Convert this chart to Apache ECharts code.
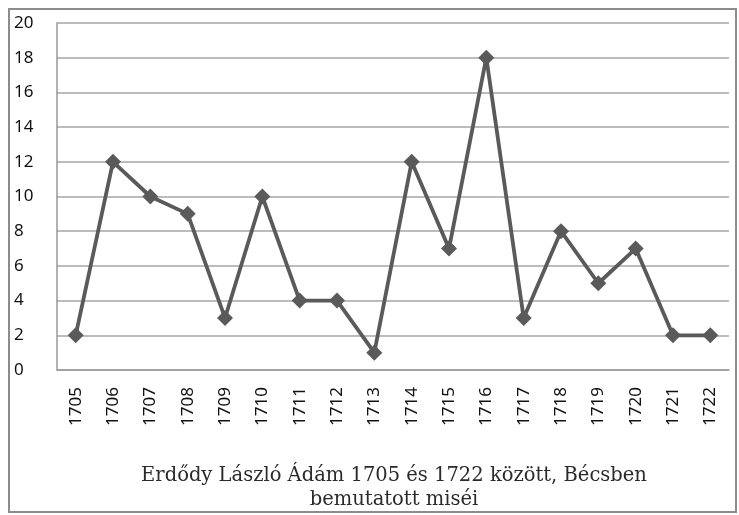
<!DOCTYPE html>
<html><head><meta charset="utf-8">
<script src="https://cdn.jsdelivr.net/npm/echarts@6/dist/echarts.min.js"></script>
<style>html,body{margin:0;padding:0;background:#fff}#c{width:739px;height:515px}</style>
</head><body><div id="c"></div>
<script>
const years = ['1705','1706','1707','1708','1709','1710','1711','1712','1713','1714','1715','1716','1717','1718','1719','1720','1721','1722'];
const masses = [2,12,10,9,3,10,4,4,1,12,7,18,3,8,5,7,2,2];
const yTicks = {min:0, max:20, interval:2};
const titleText = 'Erdődy László Ádám 1705 és 1722 között, Bécsben\nbemutatott miséi';

const chart = echarts.init(document.getElementById('c'), null, {renderer:'canvas'});
chart.setOption({
  animation:false,
  backgroundColor:'#fff',
  graphic:[{type:'rect', shape:{x:9,y:9,width:727,height:503}, style:{fill:'none', stroke:'#8c8c8c', lineWidth:2}, z:-1}],
  title:{text:titleText, left:389, textAlign:'center', top:459,
    textStyle:{fontFamily:'DejaVu Serif', fontWeight:'normal', fontSize:19.5, color:'#2a2a2a', lineHeight:24}},
  grid:{left:57, right:10, top:23, bottom:145},
  xAxis:{type:'category', data:years, boundaryGap:true,
    axisLine:{lineStyle:{color:'#999', width:1.5}}, axisTick:{show:false},
    axisLabel:{rotate:90, margin:17, fontFamily:'Noto Sans', fontSize:17, color:'#111'}},
  yAxis:{type:'value', min:yTicks.min, max:yTicks.max, interval:yTicks.interval,
    axisLine:{show:true, lineStyle:{color:'#999', width:1.5}}, axisTick:{show:false},
    splitLine:{lineStyle:{color:'#a6a6a6', width:1.5}},
    axisLabel:{align:'left', margin:43, fontFamily:'Noto Sans', fontSize:17, color:'#111'}},
  series:[{type:'line', data:masses, symbol:'diamond', symbolSize:16,
    lineStyle:{color:'#5a5a5a', width:3.8}, itemStyle:{color:'#5a5a5a'}}]
});
</script></body></html>
